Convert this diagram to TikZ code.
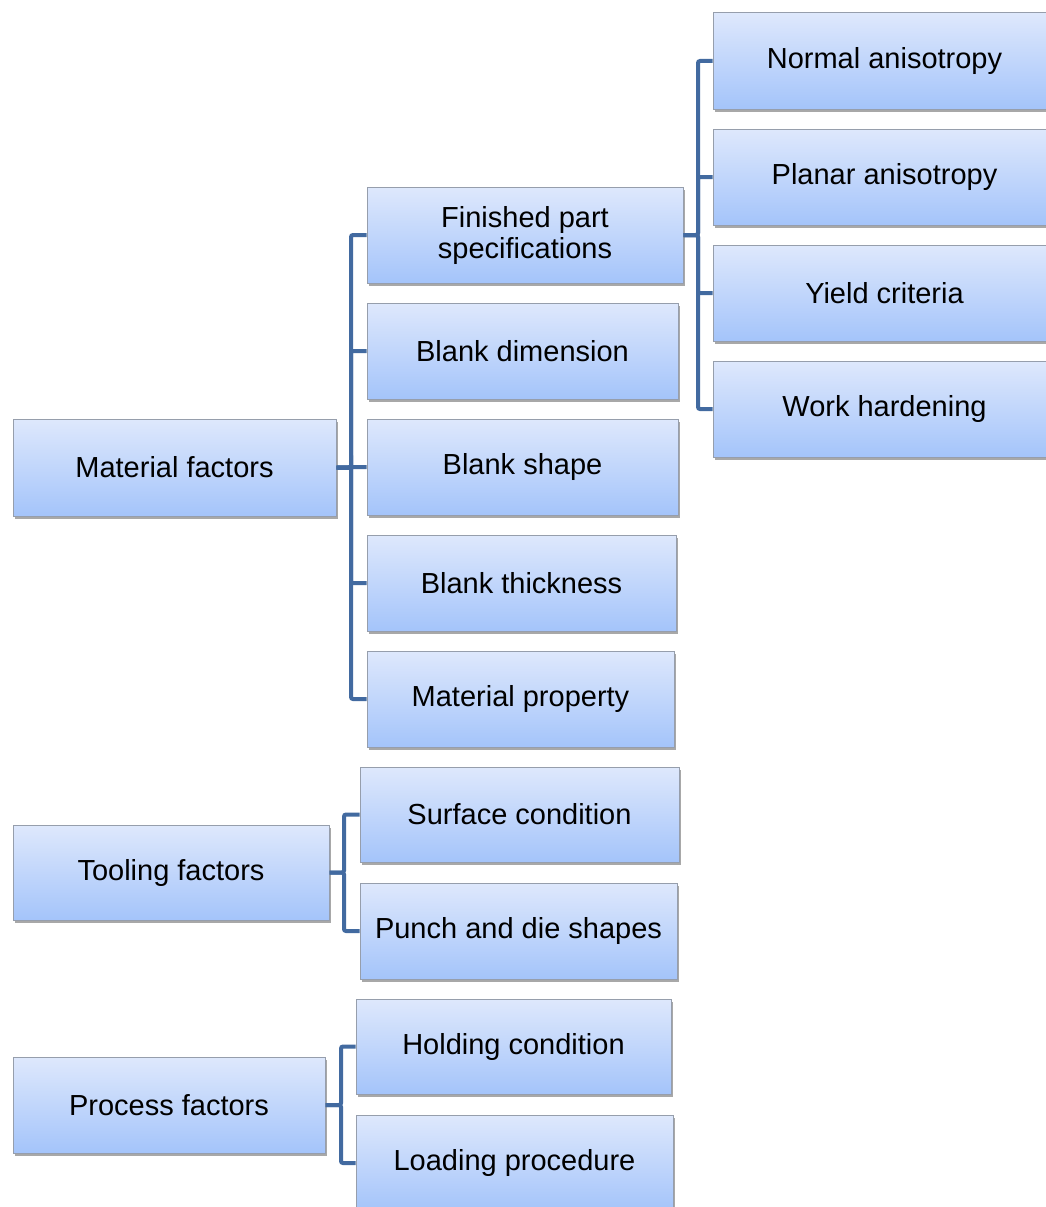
\documentclass[tikz,border=0pt]{standalone}
\usepackage{fontspec}
\setmainfont{Liberation Sans}
\usetikzlibrary{shadows}
\definecolor{boxtop}{RGB}{222,232,252}
\definecolor{boxbot}{RGB}{164,196,250}
\definecolor{boxline}{RGB}{150,158,172}
\definecolor{connc}{RGB}{66,106,160}
\tikzset{
  box/.style={rectangle, draw=boxline, line width=1pt, top color=boxtop, bottom color=boxbot,
    align=center, font=\fontsize{29}{31}\selectfont, inner sep=0pt,
    drop shadow={shadow xshift=2pt, shadow yshift=-3pt, opacity=0.45, fill=black!75}},
  conn/.style={draw=connc, line width=4pt, rounded corners=2pt}
}
\newcommand{\bx}[6]{% name, x1, y1, x2, y2, text
  \node[box, minimum width={(#4-#2)*1pt}, minimum height={(#5-#3)*1pt}] (#1) at ({(#2+#4)/2},{(#3+#5)/2}) {#6};}
\begin{document}
\begin{tikzpicture}[x=1pt,y=-1pt]
\useasboundingbox[fill=white] (0,0) rectangle (1046,1207);
\coordinate (mj) at (351,0);
\coordinate (fj) at (698,0);
\coordinate (tj) at (344,0);
\coordinate (pj) at (341,0);
% boxes
\bx{mat}{13}{419}{336}{516}{Material factors}
\bx{fps}{367}{187}{683}{283}{Finished part\\specifications}
\bx{bd}{367}{303}{678}{399}{Blank dimension}
\bx{bs}{367}{419}{678}{515}{Blank shape}
\bx{bt}{367}{535}{676}{631}{Blank thickness}
\bx{mp}{367}{651}{674}{747}{Material property}
\bx{na}{713}{13}{1046}{109}{\hspace*{10pt}Normal anisotropy}
\bx{pa}{713}{129}{1046}{225}{\hspace*{10pt}Planar anisotropy}
\bx{yc}{713}{245}{1046}{341}{\hspace*{10pt}Yield criteria}
\bx{wh}{713}{361}{1046}{457}{\hspace*{10pt}Work hardening}
\bx{tf}{13}{825}{329}{920}{Tooling factors}
\bx{sc}{360}{767}{679}{862}{Surface condition}
\bx{pd}{360}{883}{677}{979}{Punch and die shapes}
\bx{pf}{13}{1057}{325}{1153}{Process factors}
\bx{hc}{356}{999}{671}{1094}{Holding condition}
\bx{lp}{356}{1115}{673}{1211}{Loading procedure}
% connectors
\foreach \c in {fps,bd,bs,bt,mp}{\draw[conn] (mat.east) -- (mj |- mat.east) |- (\c.west);}
\foreach \c in {na,pa,yc,wh}{\draw[conn] (fps.east) -- (fj |- fps.east) |- (\c.west);}
\foreach \c in {sc,pd}{\draw[conn] (tf.east) -- (tj |- tf.east) |- (\c.west);}
\foreach \c in {hc,lp}{\draw[conn] (pf.east) -- (pj |- pf.east) |- (\c.west);}
\end{tikzpicture}
\end{document}
